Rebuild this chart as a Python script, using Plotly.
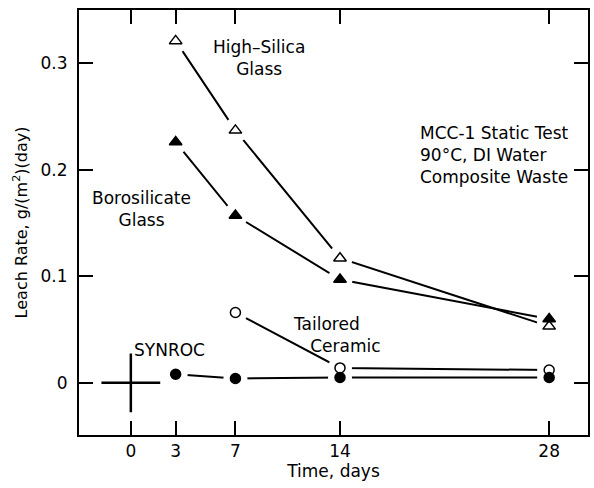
import plotly.graph_objects as go

# ---- data ----
days_glass = [3, 7, 14, 28]
high_silica = [0.321, 0.237, 0.117, 0.053]
borosilicate = [0.226, 0.157, 0.097, 0.060]
days_ceramic = [7, 14, 28]
tailored_ceramic = [0.066, 0.014, 0.012]
days_synroc = [3, 7, 14, 28]
synroc = [0.008, 0.004, 0.005, 0.005]
origin_x = [0]
origin_y = [0]

x_ticks = [0, 3, 7, 14, 28]
y_ticks = [0, 0.1, 0.2, 0.3]
y_ticktext = ["0", "0.1", "0.2", "0.3"]

FONT = "DejaVu Sans"
series = [
    (days_glass, high_silica, "triangle-up-open", 11, "High-Silica Glass"),
    (days_glass, borosilicate, "triangle-up", 11, "Borosilicate Glass"),
    (days_ceramic, tailored_ceramic, "circle-open", 10, "Tailored Ceramic"),
    (days_synroc, synroc, "circle", 10, "SYNROC"),
]

fig = go.Figure()
# connecting lines
for xs, ys, sym, sz, name in series:
    fig.add_trace(go.Scatter(x=xs, y=ys, mode="lines", line=dict(color="black", width=2),
                             showlegend=False, hoverinfo="skip"))
# white halos to give the gaps around markers
for xs, ys, sym, sz, name in series:
    fig.add_trace(go.Scatter(x=xs, y=ys, mode="markers",
                             marker=dict(symbol="circle", size=sz + 14, color="white",
                                         line=dict(width=0)),
                             showlegend=False, hoverinfo="skip"))
# markers
for xs, ys, sym, sz, name in series:
    fig.add_trace(go.Scatter(x=xs, y=ys, mode="markers", name=name,
                             marker=dict(symbol=sym, size=sz, color="black",
                                         line=dict(color="black", width=1.5)),
                             showlegend=False))
# origin cross
fig.add_trace(go.Scatter(x=origin_x, y=origin_y, mode="markers",
                         marker=dict(symbol="cross-thin-open", size=42, color="black",
                                     line=dict(color="black", width=2.5)),
                         showlegend=False, hoverinfo="skip"))

ann_font = dict(family=FONT, size=17, color="black")
annotations = [
    dict(x=8.6, y=0.305, text="High\u2013Silica<br>Glass", align="center", xanchor="center"),
    dict(x=0.73, y=0.1635, text="Borosilicate<br>Glass", align="center", xanchor="center"),
    dict(x=10.7, y=0.045, text="Tailored<br>&nbsp;&nbsp;&nbsp;Ceramic", align="left",
         xanchor="left"),
    dict(x=2.6, y=0.031, text="SYNROC", align="center", xanchor="center"),
    dict(x=19.2, y=0.2137, text="MCC-1 Static Test<br>90\u00b0C, DI Water<br>Composite Waste",
         align="left", xanchor="left"),
]
for a in annotations:
    fig.add_annotation(x=a["x"], y=a["y"], text=a["text"], align=a["align"],
                       xanchor=a["xanchor"], yanchor="middle",
                       showarrow=False, font=ann_font)

axis_common = dict(showgrid=False, zeroline=False, showline=True, linecolor="black",
                   linewidth=2, mirror="ticks", ticks="inside", tickcolor="black",
                   tickwidth=1.5, ticklen=14,
                   tickfont=dict(family=FONT, size=17, color="black"))
fig.update_xaxes(range=[-3.47, 30.6], tickvals=x_ticks, ticktext=[str(v) for v in x_ticks],
                 title=dict(text="Time, days", font=dict(family=FONT, size=17, color="black"),
                            standoff=4),
                 **axis_common)
fig.update_yaxes(range=[-0.049, 0.35], tickvals=y_ticks, ticktext=y_ticktext,
                 title=dict(text="Leach Rate, g/(m<sup>2</sup>)(day)",
                            font=dict(family=FONT, size=16, color="black"), standoff=9),
                 ticklabelstandoff=6,
                 **axis_common)
fig.update_layout(width=594, height=488, margin=dict(l=79, r=4, t=10, b=53),
                  plot_bgcolor="white", paper_bgcolor="white")
fig.write_html("out.html")
